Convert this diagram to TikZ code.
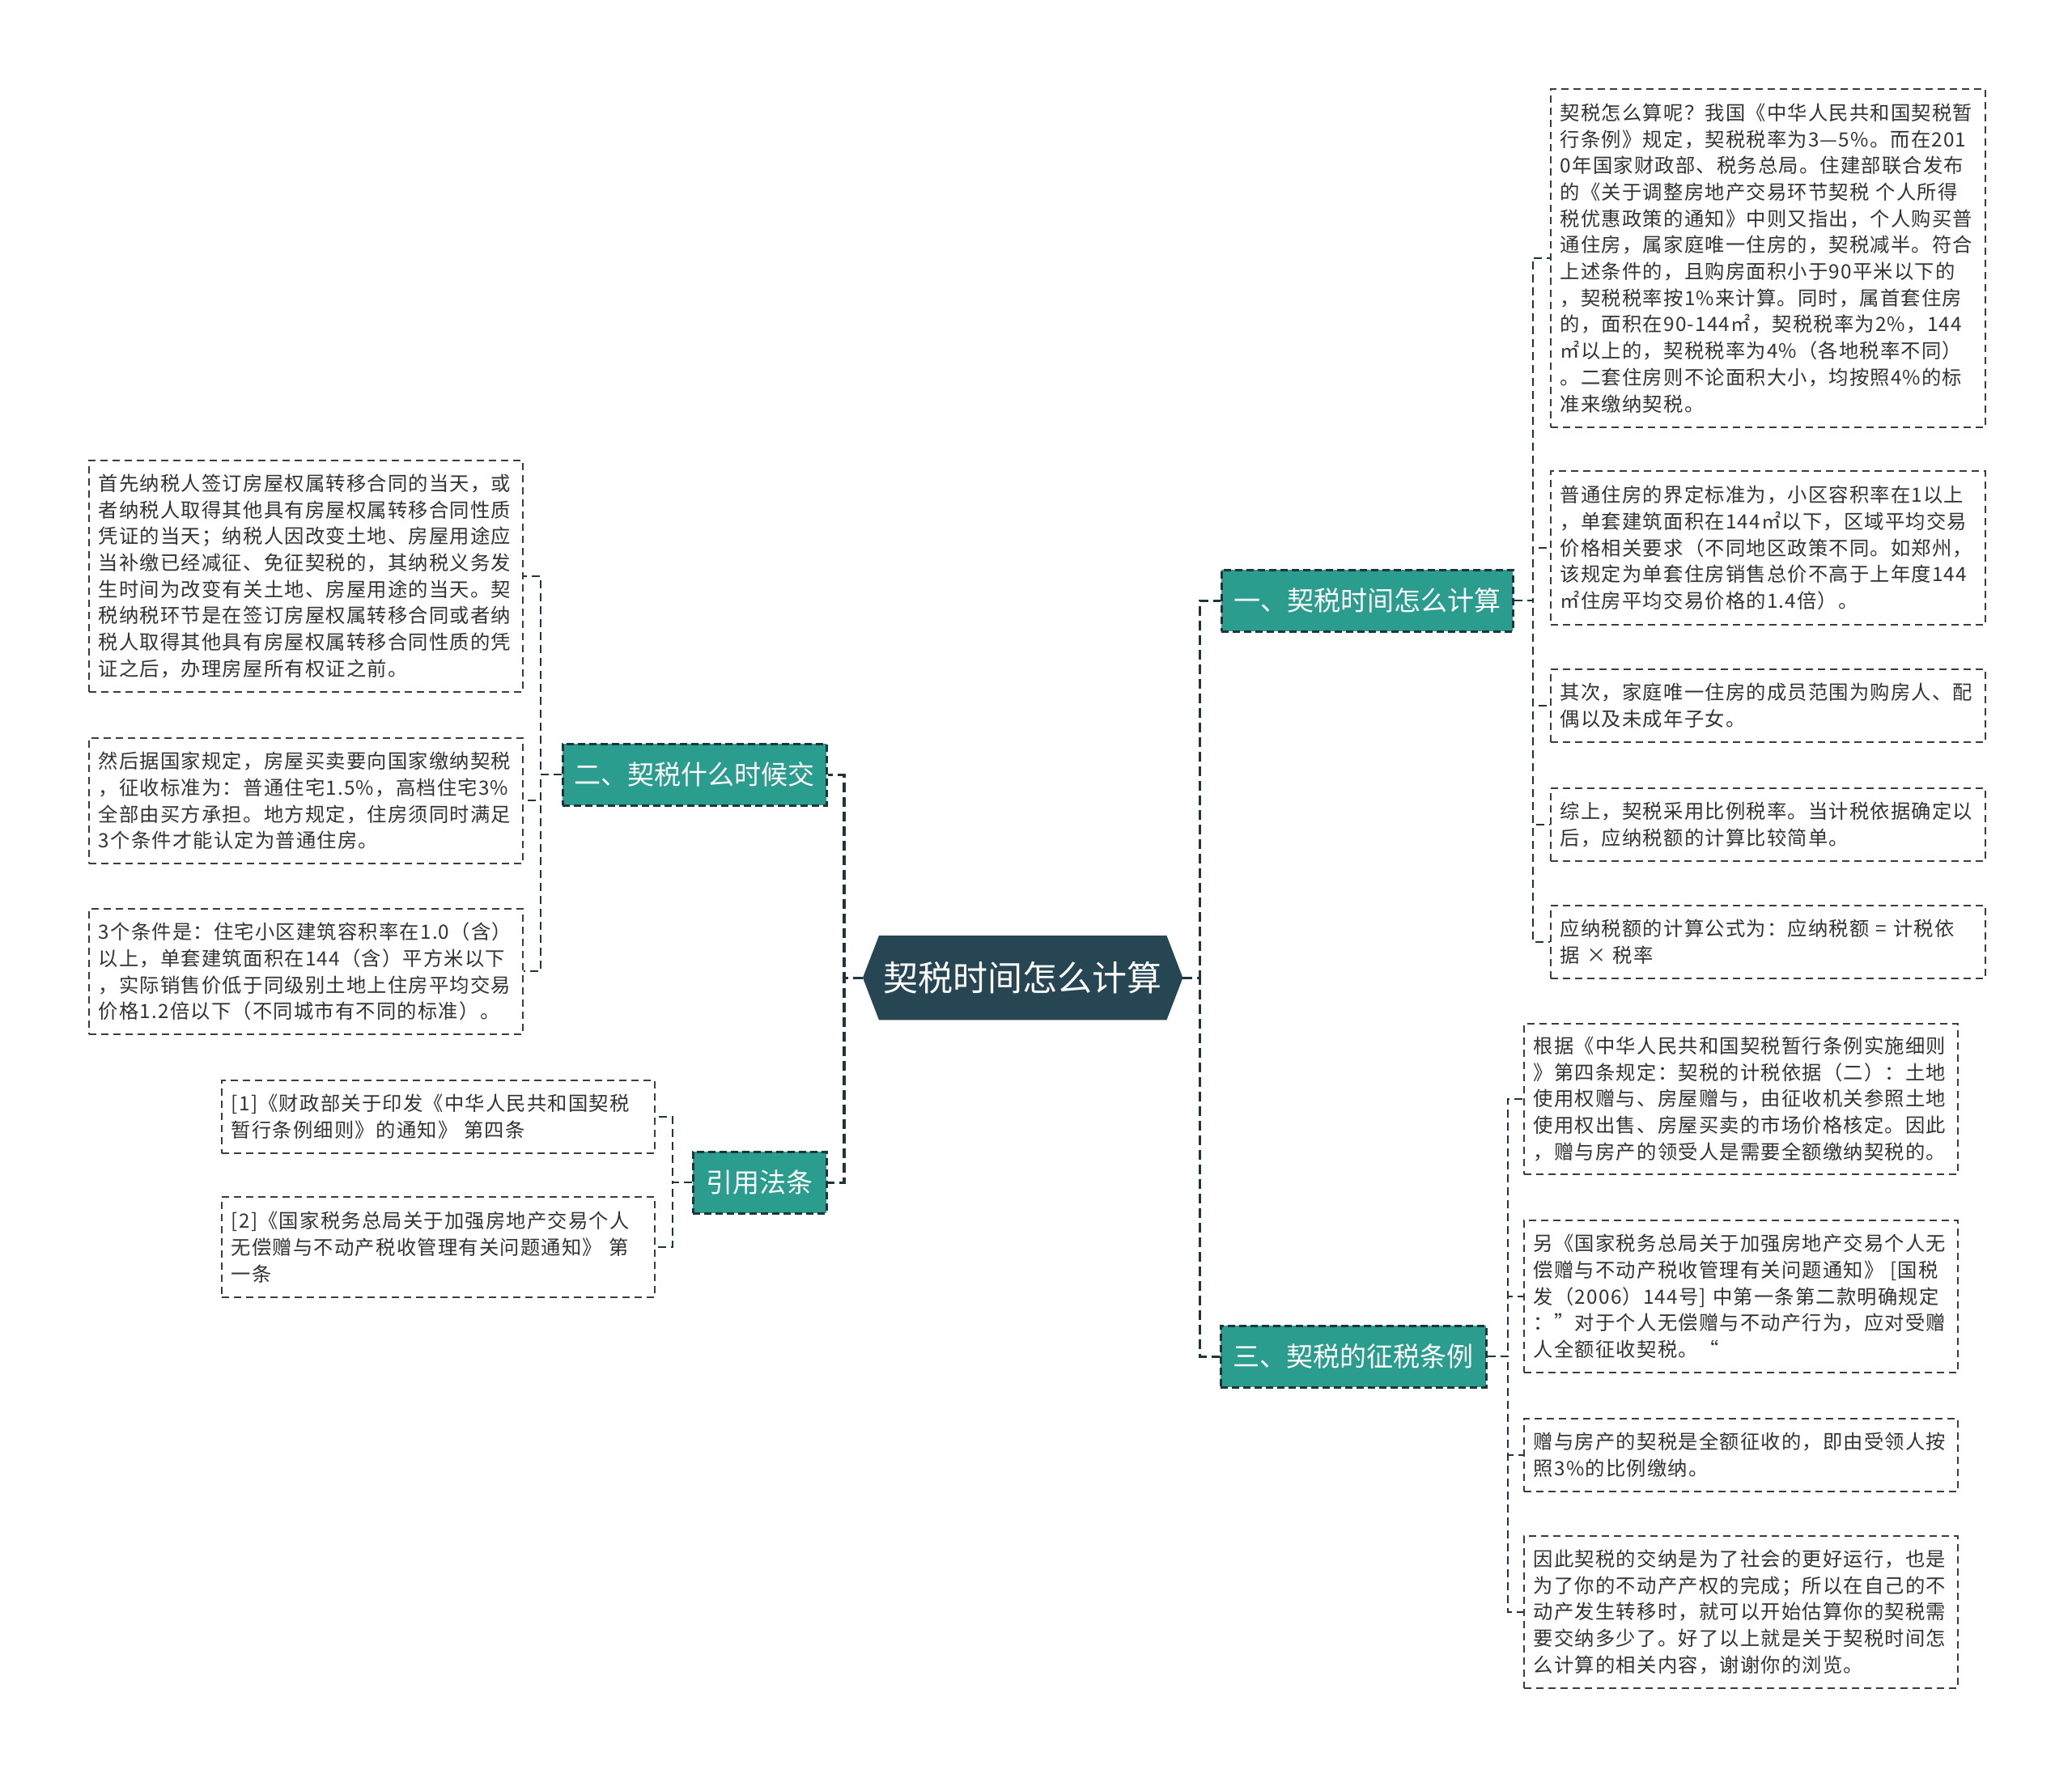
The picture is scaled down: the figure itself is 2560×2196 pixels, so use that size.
\documentclass[tikz,border=0pt]{standalone}
\usepackage{fontspec}
\newfontfamily\cjk{Noto Sans CJK SC}
\newfontfamily\cjkw[LetterSpace=5]{Noto Sans CJK SC}
\usetikzlibrary{backgrounds}
\definecolor{rootc}{RGB}{38,70,83}
\definecolor{tealc}{RGB}{43,157,142}
\definecolor{linec}{RGB}{30,52,62}
\definecolor{leafline}{RGB}{60,60,60}
\definecolor{txt}{RGB}{51,51,51}
\begin{document}
\begin{tikzpicture}[x=1pt,y=-1pt,
 leaf/.style={draw=leafline, line width=1.8pt, dash pattern=on 9pt off 6pt, fill=white,
   anchor=north west, align=left, inner xsep=12pt, inner ysep=0pt,
   font=\cjkw\fontsize{24.3}{32.7}\selectfont, text=txt},
 branch/.style={draw=linec, line width=2.5pt, dash pattern=on 9pt off 5pt, fill=tealc,
   anchor=north west, inner sep=0pt, text=white, font=\cjk\fontsize{33}{40}\selectfont},
 rootnode/.style={anchor=north west, inner sep=0pt, text=white, font=\cjk\fontsize{43}{50}\selectfont},
 rootline/.style={draw=linec, line width=3.2pt, dash pattern=on 12pt off 6pt},
 leafconn/.style={draw=linec, line width=2pt, dash pattern=on 10pt off 6pt}
]
\useasboundingbox (0,0) rectangle (2560,2196);

% root
\node[rootnode, minimum width=395pt, minimum height=104pt] (root) at (1066,1156) {契税时间怎么计算};
\begin{scope}[on background layer]
\fill[white] (0,0) rectangle (2560,2196);
\fill[rootc] (root.west) -- ([xshift=20pt]root.north west) -- ([xshift=-20pt]root.north east)
  -- (root.east) -- ([xshift=-20pt]root.south east) -- ([xshift=20pt]root.south west) -- cycle;
\end{scope}

% branches
\node[branch, minimum width=360pt, minimum height=76pt] (b1) at (1508,703) {一、契税时间怎么计算};
\node[branch, minimum width=328pt, minimum height=76pt] (b3) at (1507,1637) {三、契税的征税条例};
\node[branch, minimum width=326pt, minimum height=76pt] (b2) at (694,918) {二、契税什么时候交};
\node[branch, minimum width=165pt, minimum height=76pt] (b4) at (855,1422) {引用法条};

% leaves of branch 1
\node[leaf, text width=513pt, minimum height=418pt] (l1a) at (1915,109) {契税怎么算呢？我国《中华人民共和国契税暂\\行条例》规定，契税税率为3—5\%。而在201\\0年国家财政部、税务总局。住建部联合发布\\的《关于调整房地产交易环节契税 个人所得\\税优惠政策的通知》中则又指出，个人购买普\\通住房，属家庭唯一住房的，契税减半。符合\\上述条件的，且购房面积小于90平米以下的\\，契税税率按1\%来计算。同时，属首套住房\\的，面积在90-144㎡，契税税率为2\%，144\\㎡以上的，契税税率为4\%（各地税率不同）\\。二套住房则不论面积大小，均按照4\%的标\\准来缴纳契税。};
\node[leaf, text width=513pt, minimum height=190pt] (l1b) at (1915,581) {普通住房的界定标准为，小区容积率在1以上\\，单套建筑面积在144㎡以下，区域平均交易\\价格相关要求（不同地区政策不同。如郑州，\\该规定为单套住房销售总价不高于上年度144\\㎡住房平均交易价格的1.4倍）。};
\node[leaf, text width=513pt, minimum height=90pt] (l1c) at (1915,826) {其次，家庭唯一住房的成员范围为购房人、配\\偶以及未成年子女。};
\node[leaf, text width=513pt, minimum height=90pt] (l1d) at (1915,973) {综上，契税采用比例税率。当计税依据确定以\\后，应纳税额的计算比较简单。};
\node[leaf, text width=513pt, minimum height=90pt] (l1e) at (1915,1118) {应纳税额的计算公式为：应纳税额 = 计税依\\据 × 税率};

% leaves of branch 3
\node[leaf, text width=512pt, minimum height=186pt] (l3a) at (1882,1264) {根据《中华人民共和国契税暂行条例实施细则\\》第四条规定：契税的计税依据（二）：土地\\使用权赠与、房屋赠与，由征收机关参照土地\\使用权出售、房屋买卖的市场价格核定。因此\\，赠与房产的领受人是需要全额缴纳契税的。};
\node[leaf, text width=512pt, minimum height=188pt] (l3b) at (1882,1507) {另《国家税务总局关于加强房地产交易个人无\\偿赠与不动产税收管理有关问题通知》 [国税\\发（2006）144号] 中第一条第二款明确规定\\：”对于个人无偿赠与不动产行为，应对受赠\\人全额征收契税。“};
\node[leaf, text width=512pt, minimum height=90pt] (l3c) at (1882,1752) {赠与房产的契税是全额征收的，即由受领人按\\照3\%的比例缴纳。};
\node[leaf, text width=512pt, minimum height=188pt] (l3d) at (1882,1897) {因此契税的交纳是为了社会的更好运行，也是\\为了你的不动产产权的完成；所以在自己的不\\动产发生转移时，就可以开始估算你的契税需\\要交纳多少了。好了以上就是关于契税时间怎\\么计算的相关内容，谢谢你的浏览。};

% leaves of branch 2
\node[leaf, text width=512pt, minimum height=286pt] (l2a) at (109,568) {首先纳税人签订房屋权属转移合同的当天，或\\者纳税人取得其他具有房屋权属转移合同性质\\凭证的当天；纳税人因改变土地、房屋用途应\\当补缴已经减征、免征契税的，其纳税义务发\\生时间为改变有关土地、房屋用途的当天。契\\税纳税环节是在签订房屋权属转移合同或者纳\\税人取得其他具有房屋权属转移合同性质的凭\\证之后，办理房屋所有权证之前。};
\node[leaf, text width=512pt, minimum height=155pt] (l2b) at (109,911) {然后据国家规定，房屋买卖要向国家缴纳契税\\，征收标准为：普通住宅1.5\%，高档住宅3\%\\全部由买方承担。地方规定，住房须同时满足\\3个条件才能认定为普通住房。};
\node[leaf, text width=512pt, minimum height=155pt] (l2c) at (109,1122) {3个条件是：住宅小区建筑容积率在1.0（含）\\以上，单套建筑面积在144（含）平方米以下\\，实际销售价低于同级别土地上住房平均交易\\价格1.2倍以下（不同城市有不同的标准）。};

% leaves of branch 4
\node[leaf, text width=511pt, minimum height=90pt] (l4a) at (273,1334) {[1]《财政部关于印发《中华人民共和国契税\\暂行条例细则》的通知》 第四条};
\node[leaf, text width=511pt, minimum height=124pt] (l4b) at (273,1478) {[2]《国家税务总局关于加强房地产交易个人\\无偿赠与不动产税收管理有关问题通知》 第\\一条};

% root connectors
\foreach \b in {b1,b3} \draw[rootline] (root.east) -- ++(21,0) |- (\b.west);
\foreach \b in {b2,b4} \draw[rootline] (root.west) -- ++(-23,0) |- (\b.east);

% branch to leaf connectors
\foreach \l in {l1a,l1b,l1c,l1d,l1e} \draw[leafconn] (b1.east) -- ++(23,0) |- (\l.west);
\foreach \l in {l3a,l3b,l3c,l3d} \draw[leafconn] (b3.east) -- ++(25,0) |- (\l.west);
\foreach \l in {l2a,l2b,l2c} \draw[leafconn] (b2.west) -- ++(-26,0) |- (\l.east);
\foreach \l in {l4a,l4b} \draw[leafconn] (b4.west) -- ++(-24,0) |- (\l.east);
\end{tikzpicture}
\end{document}
